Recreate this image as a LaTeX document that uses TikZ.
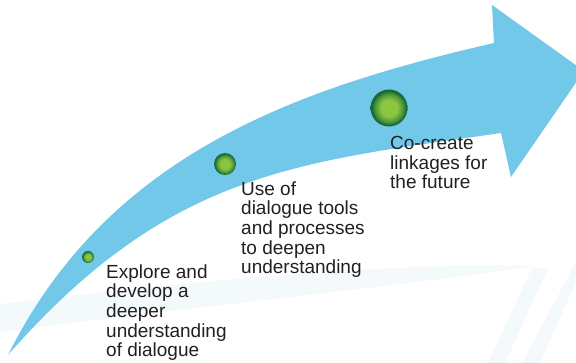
\documentclass[tikz,border=0pt]{standalone}
\usepackage{fontspec}
\setmainfont{Liberation Sans}
\usetikzlibrary{positioning}

\definecolor{arrowblue}{HTML}{72C8E8}
\definecolor{ballin}{HTML}{8CC63F}
\definecolor{ballmid}{HTML}{4C963A}
\definecolor{ballout}{HTML}{1A6A36}
\definecolor{faintblue}{HTML}{F4F9FC}
\definecolor{txt}{HTML}{231F20}

\pgfdeclareradialshading{greenball}{\pgfpoint{0bp}{0bp}}{color(0bp)=(ballin); color(11bp)=(ballin); color(19bp)=(ballmid); color(23bp)=(ballout); color(50bp)=(ballout)}

\tikzset{
  ball/.style={circle,shading=greenball,inner sep=0pt},
  steptext/.style={anchor=base west,align=left,inner sep=0pt,text=txt,
    font=\fontsize{19pt}{19.7pt}\selectfont}
}

\begin{document}
\begin{tikzpicture}[x=1pt,y=-1pt]
\useasboundingbox (0,0) rectangle (576,363);
\clip (0,0) rectangle (576,363);
% faint pattern in the background
\fill[faintblue](0,304) .. controls (200,280) and (400,262) .. (533,266)
  .. controls (420,284) and (200,306) .. (0,332) -- cycle;
\fill[faintblue](532,268) -- (548,268) -- (505,363) -- (488,363) -- cycle;
\fill[faintblue](576,262) -- (576,282) -- (540,363) -- (522,363) -- cycle;
% the arrow
\fill[arrowblue](8,355) .. controls (108,155) and (294,89) .. (494,43)
  -- (492,5) -- (584,71) -- (511,177) -- (501,133)
  .. controls (301,162) and (170,170) .. (8,355) -- cycle;
% steps (base anchor sits on the last line)
\node[ball,minimum size=12pt] (stepone) at (88,257) {};
\node[ball,minimum size=22pt] (steptwo) at (225,164) {};
\node[ball,minimum size=37pt] (stepthree) at (389,108) {};
\node[steptext] (textone) at (106,357) {Explore and\\develop a\\deeper\\understanding\\of dialogue};
\node[steptext] (texttwo) at (241,274) {Use of\\dialogue tools\\and processes\\to deepen\\understanding};
\node[steptext] (textthree) at (390,189) {Co-create\\linkages for\\the future};
\end{tikzpicture}
\end{document}
